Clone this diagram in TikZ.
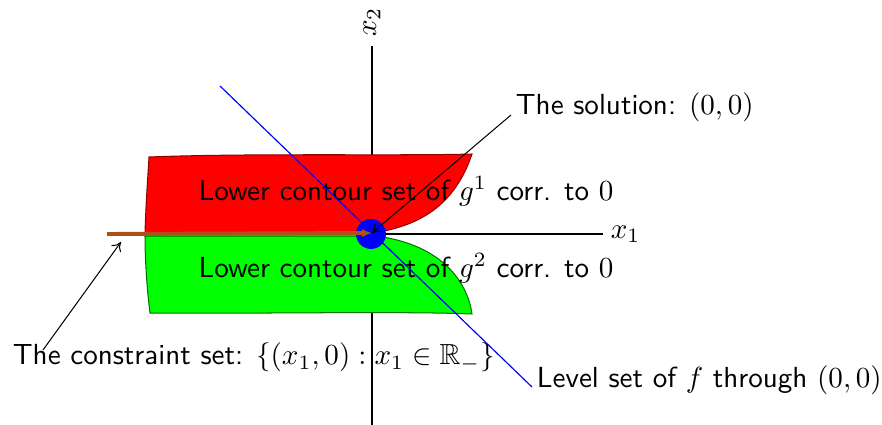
\documentclass[tikz,border=0pt]{standalone}
\usepackage{amssymb}
\usetikzlibrary{arrows.meta}
\begin{document}
\begin{tikzpicture}[x=0.344pt,y=-0.344pt]
\tikzset{
  lbl/.style={font=\sffamily, inner sep=1.5pt},
  axisline/.style={black, line width=0.4pt},
  regR/.style={draw=red!55!black, fill=red, line width=0.35pt},
  regG/.style={draw=green!45!black, fill=green, line width=0.35pt},
  ptr/.style={-{To[length=3pt,width=4pt]}, black, line width=0.35pt},
  brownline/.style={-{Latex[length=3.5pt,width=3pt]}, draw={rgb,255:red,172;green,82;blue,22}, line width=1.35pt},
  levelline/.style={blue, line width=0.4pt},
}
\useasboundingbox (0,0) rectangle (882,425);
% axes
\draw[axisline] (145,234) -- (603,234) node[right, inner sep=2.5pt] (x1) {$x_1$};
\draw[axisline] (372,425) -- (372,46) node[anchor=west, rotate=90, inner sep=3pt] (x2) {$x_2$};
% regions
\path[regR] (149,157) .. controls (250,153) and (400,156) .. (472,154)
  .. controls (455,205) and (420,226) .. (373,233)
  -- (145,233) .. controls (146,200) and (148,175) .. (149,157) -- cycle;
\path[regG] (145,236) -- (376,236)
  .. controls (445,245) and (468,285) .. (472,314)
  .. controls (400,311) and (250,314) .. (150,313)
  .. controls (147,290) and (145,260) .. (145,236) -- cycle;
% solution point
\node[circle, fill=blue, inner sep=0pt, minimum size=10.3pt] (pt) at (371,234) {};
\coordinate (O) at (372,233);
% labels
\node[lbl, anchor=base] (g1) at (406,200) {Lower contour set of $g^1$ corr. to $0$};
\node[lbl, anchor=base] (g2) at (406,277) {Lower contour set of $g^2$ corr. to $0$};
\node[lbl, anchor=base west] (sol) at (511,115) {The solution: $(0,0)$};
\node[lbl, anchor=base west] (lev) at (532,387) {Level set of $f$ through $(0,0)$};
\node[lbl, anchor=base west] (con) at (8,365) {The constraint set: $\{(x_1,0) : x_1\in\mathbb{R}_-\}$};
% constraint set
\coordinate (cleft) at (107,234);
\draw[brownline] (cleft) -- (O);
% level set of f
\coordinate (ls) at (220,86);
\draw[levelline] (ls) -- (lev.base west);
% pointers
\draw[ptr] (sol.base west) -- (O);
\coordinate (cs0) at (43,350);
\coordinate (cs1) at (121,242);
\draw[ptr] (cs0) -- (cs1);
\end{tikzpicture}
\end{document}
